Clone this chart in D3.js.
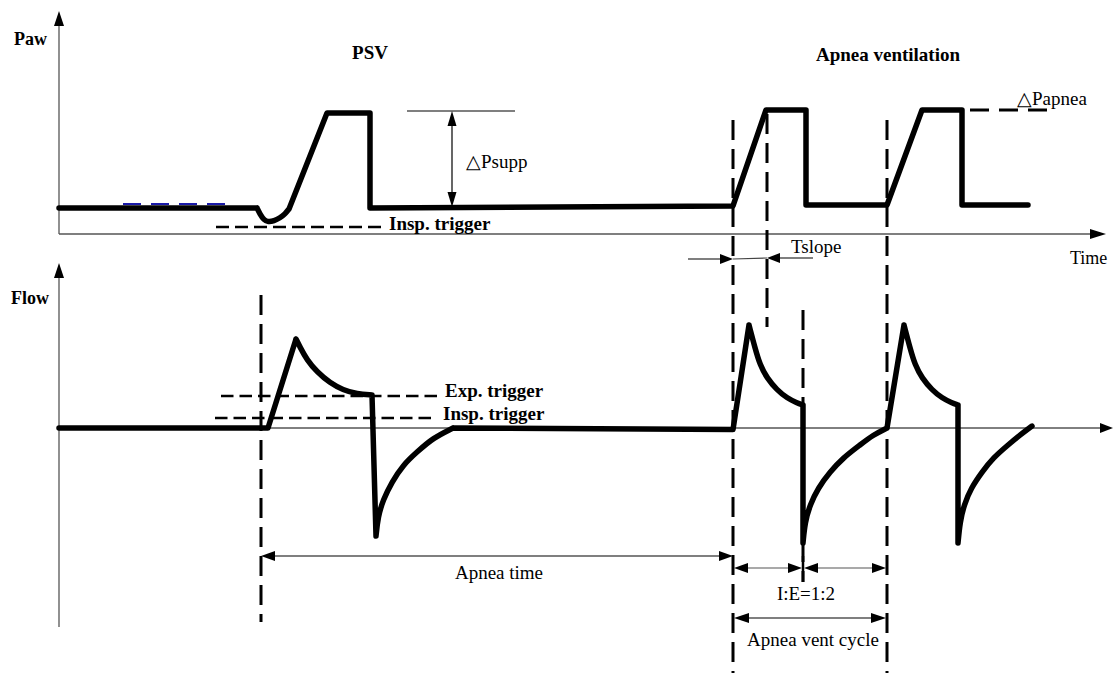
<!DOCTYPE html>
<html><head><meta charset="utf-8">
<script src="https://cdn.jsdelivr.net/npm/d3@7"></script>
<style>html,body{margin:0;padding:0;background:#fff;} svg{display:block;}</style>
</head><body>
<svg id="c" width="1114" height="673"></svg>
<script>
// ---------- data (time units, pressure %, flow %) ----------
// [time, value, smoothFlag(segment ending here is a smooth curve)]
const pawWave = [
  [0, 21.0], [19.8, 21.0],
  [20.1, 16.1, 1], [20.5, 11.3, 1], [20.9, 9.7, 1], [21.5, 10.5, 1], [22.1, 13.0, 1], [22.6, 16.1, 1], [23.0, 20.2, 1],
  [26.8, 97.6], [31.1, 97.6], [31.1, 21.0], [67.4, 22.6],
  [70.7, 100], [74.7, 100], [74.7, 23.4], [82.8, 23.4],
  [86.3, 100], [90.3, 100], [90.3, 23.4], [96.9, 23.4]
];
const flowWave = [
  [0, 0], [20.9, 0], [23.7, 86.4],
  [24.1, 78.6, 1], [24.8, 66.0, 1], [25.8, 54.4, 1], [27.1, 43.7, 1], [28.4, 36.9, 1], [29.8, 33.0, 1], [31.3, 32.0, 1],
  [31.7, -104.9],
  [31.9, -86.4, 1], [32.4, -69.9, 1], [33.3, -52.4, 1], [34.4, -35.9, 1], [35.8, -23.3, 1], [37.4, -9.7, 1], [39.4, 0, 1],
  [67.4, -1.5], [69.0, 100],
  [69.6, 77.7, 1], [70.1, 61.2, 1], [70.8, 48.5, 1], [71.8, 36.9, 1], [72.8, 29.1, 1], [73.8, 24.3, 1], [74.4, 22.3, 1],
  [74.4, -111.7],
  [74.6, -91.3, 1], [75.1, -74.8, 1], [75.9, -58.3, 1], [77.1, -42.7, 1], [78.4, -29.1, 1], [80.1, -16.5, 1], [81.4, -6.8, 1], [82.8, 0, 1],
  [84.5, 100],
  [85.1, 77.7, 1], [85.6, 61.2, 1], [86.3, 48.5, 1], [87.3, 36.9, 1], [88.3, 29.1, 1], [89.3, 24.3, 1], [89.9, 22.3, 1],
  [89.9, -111.7],
  [90.1, -91.3, 1], [90.5, -74.8, 1], [91.2, -58.3, 1], [92.3, -42.7, 1], [93.4, -29.1, 1], [94.9, -16.5, 1], [96.1, -6.8, 1], [97.3, 1.9, 1]
];
// [from, to, level]
const pawInspTrigger = [15.7, 32.3, 5.6];
const flowExpTrigger = [16.2, 37.9, 31.1];
const flowInspTrigger = [15.6, 37.4, 9.7];
const papneaLevel = [90.3, 99.6, 100];
const psuppLevel = [34.8, 45.6, 99.2];
const psuppArrow = [39.3, 21.8, 99.2];
const blueDashes = [6.4, 16.9, 24.2];
// event times: apnea start, vent start, end of slope, insp end, next breath
const apneaStart = 20.2, ventStart = 67.4, slopeEnd = 70.8, inspEnd = 74.4, cycleEnd = 82.8;
const labels = ["Paw", "Flow", "PSV", "Apnea ventilation", "Time", "\u25B3Psupp", "\u25B3Papnea",
  "Insp. trigger", "Exp. trigger", "Tslope", "Apnea time", "I:E=1:2", "Apnea vent cycle"];

// ---------- scales ----------
const x = d3.scaleLinear().domain([0, 105]).range([59, 1109]);
const yP = d3.scaleLinear().domain([0, 100]).range([234, 110]);
const yF = d3.scaleLinear().domain([-100, 100]).range([531, 325]);

const svg = d3.select("#c");
const SERIF = "'Liberation Serif','Times New Roman',serif";

function arrowHead(g, tx, ty, dir, len, hw) {
  let pts;
  if (dir === "up") pts = [[tx, ty], [tx - hw, ty + len], [tx + hw, ty + len]];
  if (dir === "down") pts = [[tx, ty], [tx - hw, ty - len], [tx + hw, ty - len]];
  if (dir === "right") pts = [[tx, ty], [tx - len, ty - hw], [tx - len, ty + hw]];
  if (dir === "left") pts = [[tx, ty], [tx + len, ty - hw], [tx + len, ty + hw]];
  g.append("path").attr("d", "M" + pts.map(p => p.join(",")).join("L") + "Z").attr("fill", "#000");
}
function line(g, x1, y1, x2, y2, w, color, dash) {
  const l = g.append("line").attr("x1", x1).attr("y1", y1).attr("x2", x2).attr("y2", y2)
    .attr("stroke", color || "#000").attr("stroke-width", w);
  if (dash) l.attr("stroke-dasharray", dash);
  return l;
}
function text(g, s, tx, ty, anchor, bold, size) {
  return g.append("text").attr("x", tx).attr("y", ty).text(s)
    .attr("text-anchor", anchor || "start")
    .attr("font-family", SERIF).attr("font-size", size || 19)
    .attr("font-weight", bold ? "bold" : "normal").attr("fill", "#000");
}
function wavePath(data, ys) {
  const lin = d3.line().x(p => x(p[0])).y(p => ys(p[1])).curve(d3.curveLinear);
  const smo = d3.line().x(p => x(p[0])).y(p => ys(p[1])).curve(d3.curveBasis);
  let d = "", run = [data[0]], runType = data[1][2] || 0;
  for (let k = 1; k < data.length; k++) {
    const type = data[k][2] || 0;
    if (type !== runType) { d += (runType ? smo : lin)(run); run = [data[k - 1]]; runType = type; }
    run.push(data[k]);
  }
  d += (runType ? smo : lin)(run);
  return d;
}

// ---------- axes ----------
const ax = svg.append("g");
line(ax, x(0), yP(0), 1094, yP(0), 1.3, "#555");
arrowHead(ax, 1106, yP(0), "right", 16, 5);
line(ax, x(0), 22, x(0), yP(0), 1.3, "#555");
arrowHead(ax, x(0), 11, "up", 15, 5);
line(ax, x(0), yF(0), 1100, yF(0), 1, "#000");
arrowHead(ax, 1113, yF(0), "right", 13, 5);
line(ax, x(0), 275, x(0), 627, 1.3, "#555");
arrowHead(ax, x(0), 263, "up", 15, 5);

// ---------- vertical dashed markers ----------
const vd = svg.append("g");
const VD = "20,9";
line(vd, x(apneaStart), 295, x(apneaStart), 622, 3, "#000", VD);
line(vd, x(ventStart), 120, x(ventStart), 673, 3, "#000", VD);
line(vd, x(slopeEnd), 114, x(slopeEnd), 327, 3, "#000", VD);
line(vd, x(inspEnd), 310, x(inspEnd), 582, 3, "#000", VD);
line(vd, x(cycleEnd), 120, x(cycleEnd), 673, 3, "#000", VD);

// ---------- trigger / level dashed lines ----------
const td = svg.append("g");
line(td, x(blueDashes[0]), yP(blueDashes[2]), x(blueDashes[1]), yP(blueDashes[2]), 2, "#1a1aa8", "18,10");
line(td, x(pawInspTrigger[0]), yP(pawInspTrigger[2]), x(pawInspTrigger[1]), yP(pawInspTrigger[2]), 2.5, "#000", "13,6");
line(td, x(flowExpTrigger[0]), yF(flowExpTrigger[2]), x(flowExpTrigger[1]), yF(flowExpTrigger[2]), 2.5, "#000", "12.5,6");
line(td, x(flowInspTrigger[0]), yF(flowInspTrigger[2]), x(flowInspTrigger[1]), yF(flowInspTrigger[2]), 2.5, "#000", "12.5,6");
line(td, x(papneaLevel[0]) + 8, yP(papneaLevel[2]), x(papneaLevel[1]), yP(papneaLevel[2]), 3, "#000", "19,10");

// ---------- waveforms ----------
const wv = svg.append("g").attr("fill", "none").attr("stroke", "#000")
  .attr("stroke-width", 5.5).attr("stroke-linejoin", "round").attr("stroke-linecap", "round");
wv.append("path").attr("d", wavePath(pawWave, yP));
wv.append("path").attr("d", wavePath(flowWave, yF));

// ---------- annotations ----------
const an = svg.append("g");
// delta Psupp
line(an, x(psuppLevel[0]), yP(psuppLevel[2]), x(psuppLevel[1]), yP(psuppLevel[2]), 1.2);
line(an, x(psuppArrow[0]), yP(psuppArrow[2]) + 10, x(psuppArrow[0]), yP(psuppArrow[1]) - 10, 1.2);
arrowHead(an, x(psuppArrow[0]), yP(psuppArrow[2]), "up", 15, 4.5);
arrowHead(an, x(psuppArrow[0]), yP(psuppArrow[1]), "down", 15, 4.5);
// Tslope
const ty = 259;
line(an, 688, ty, x(ventStart) - 6, ty, 1.2);
arrowHead(an, x(ventStart), ty, "right", 13, 5);
line(an, x(ventStart), ty, x(slopeEnd), ty - 1, 1.2, "#444");
line(an, 813, ty - 1, x(slopeEnd) + 6, ty - 1, 1.2);
arrowHead(an, x(slopeEnd), ty - 1, "left", 13, 5);
// Apnea time
const at = 556;
line(an, x(apneaStart) + 6, at, x(ventStart) - 6, at, 1.2);
arrowHead(an, x(apneaStart), at, "left", 14, 5);
arrowHead(an, x(ventStart), at, "right", 14, 5);
// I:E
const ie = 568;
line(an, x(ventStart) + 6, ie, x(inspEnd) - 6, ie, 1.2, "#555");
arrowHead(an, x(ventStart) + 1, ie, "left", 14, 5);
arrowHead(an, x(inspEnd) - 1, ie, "right", 14, 5);
line(an, x(inspEnd) + 6, ie, x(cycleEnd) - 6, ie, 1.2, "#555");
arrowHead(an, x(inspEnd) + 1, ie, "left", 14, 5);
arrowHead(an, x(cycleEnd) - 1, ie, "right", 14, 5);
line(an, x(inspEnd), 556, x(inspEnd), 582, 2.5);
// Apnea vent cycle
const vc = 618;
line(an, x(ventStart) + 6, vc, x(cycleEnd) - 6, vc, 1.2);
arrowHead(an, x(ventStart) + 1, vc, "left", 15, 5);
arrowHead(an, x(cycleEnd) - 1, vc, "right", 15, 5);

// ---------- text ----------
const tx = svg.append("g");
text(tx, labels[0], 14, 45, "start", true, 18);
text(tx, labels[1], 11, 304, "start", true, 18);
text(tx, labels[2], 370, 59, "middle", true);
text(tx, labels[3], 888, 61, "middle", true);
text(tx, labels[4], 1070, 264, "start", false, 18);
text(tx, labels[5], 466, 168, "start", false);
text(tx, labels[6], 1017, 105, "start", false);
text(tx, labels[7], 389, 230, "start", true);
text(tx, labels[8], 445, 397, "start", true);
text(tx, labels[7], 443, 420, "start", true);
text(tx, labels[9], 791, 253, "start", false);
text(tx, labels[10], 499, 579, "middle", false);
text(tx, labels[11], 806, 600, "middle", false);
text(tx, labels[12], 813, 646, "middle", false);
</script>
</body></html>
